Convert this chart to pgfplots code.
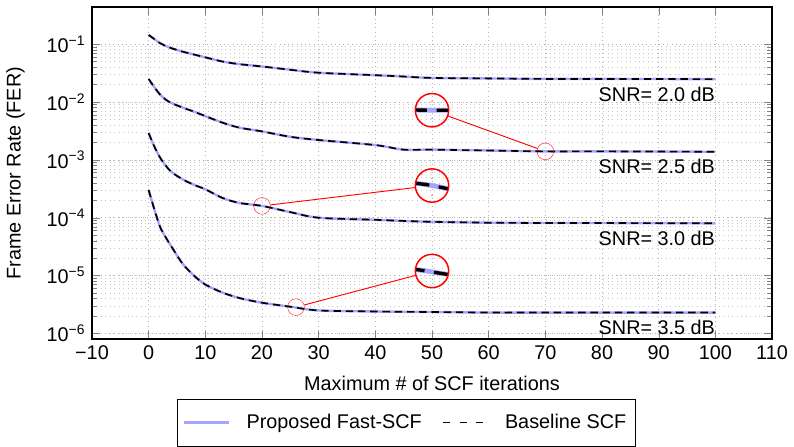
\documentclass[border=0pt]{standalone}
\usepackage{fontspec}
\setmainfont{Liberation Sans}
\usepackage{pgfplots}
\pgfplotsset{compat=1.18}
\usepackage{pgfplotstable}
\usetikzlibrary{spy}
\definecolor{propblue}{RGB}{165,165,255}

% FER vs. max iterations, columns: SNR 2.0 / 2.5 / 3.0 / 3.5 dB
\pgfplotstableread{
x    a       b        c        d
0    0.144   0.025    0.0029   3.0e-4
1    0.122   0.018    0.0017   1.4e-4
2    0.104   0.0135   0.0011   7.0e-5
3    0.093   0.011    8.0e-4   4.6e-5
4    0.085   0.0096   6.2e-4   3.2e-5
6    0.074   0.0080   4.6e-4   1.6e-5
8    0.066   0.0068   3.7e-4   1.0e-5
10   0.059   0.0057   3.1e-4   7.0e-6
13   0.050   0.0044   2.2e-4   5.1e-6
16   0.045   0.0036   1.8e-4   4.1e-6
20   0.041   0.0031   1.6e-4   3.4e-6
25   0.036   0.0025   1.25e-4  2.9e-6
30   0.032   0.0022   1.0e-4   2.5e-6
40   0.029   0.0018   9.2e-5   2.4e-6
45   0.0275  0.0015   8.8e-5   2.37e-6
50   0.026   0.0015   8.5e-5   2.35e-6
60   0.0255  0.00145  8.2e-5   2.3e-6
70   0.025   0.0014   8.1e-5   2.3e-6
80   0.025   0.0014   8.1e-5   2.3e-6
100  0.0248  0.00138  8.0e-5   2.3e-6
}\fer

\begin{document}
\begin{tikzpicture}[font=\fontsize{10.7pt}{12.8pt}\selectfont,
  spy using outlines={circle, red, magnification=2, size=18pt,
    spy connection path={\draw[red, line width=0.5pt] (tikzspyonnode) -- (tikzspyinnode);}},
  every spy in node/.append style={line width=1pt},
  every spy on node/.append style={line width=0.6pt}]
\begin{axis}[
  scale only axis,
  width=367pt, height=179pt,
  ymode=log,
  xmin=-10, xmax=110,
  ymin=8e-7, ymax=0.43,
  xtick={-10,0,10,20,30,40,50,60,70,80,90,100,110},
  xticklabels={−10,0,10,20,30,40,50,60,70,80,90,100,110},
  ytick={1e-6,1e-5,1e-4,1e-3,1e-2,1e-1},
  yticklabels={10\textsuperscript{−6},10\textsuperscript{−5},10\textsuperscript{−4},10\textsuperscript{−3},10\textsuperscript{−2},10\textsuperscript{−1}},
  grid=both,
  grid style={dotted, line width=0.3pt, draw=gray!45},
  major grid style={dotted, line width=0.3pt, draw=gray!60},
  axis line style={line width=1pt},
  xlabel={Maximum \# of SCF iterations},
  ylabel={Frame Error Rate (FER)},
  xlabel style={yshift=-2pt},
  ylabel style={yshift=5pt},
  legend columns=2,
  legend style={at={(0.4625,-0.18)}, anchor=north, draw=black, line width=0.5pt,
    inner xsep=3pt, inner ysep=6pt,
    /tikz/every odd column/.append style={column sep=7pt},
    /tikz/column 2/.append style={column sep=9pt}},
  legend image code/.code={\draw[#1] (0pt,0pt) -- (24pt,0pt);},
  every axis plot/.append style={smooth},
]
\addlegendimage{propblue, line width=1.3pt}
\addlegendentry{Proposed Fast-SCF}
\addlegendimage{black, line width=0.9pt, dash pattern=on 3.7pt off 5.3pt}
\addlegendentry{Baseline SCF}

\addplot[propblue, line width=1.3pt, forget plot] table[x=x, y=a] {\fer};
\addplot[black, line width=0.9pt, dash pattern=on 4pt off 2.6pt, forget plot] table[x=x, y=a] {\fer};
\addplot[propblue, line width=1.3pt, forget plot] table[x=x, y=b] {\fer};
\addplot[black, line width=0.9pt, dash pattern=on 4pt off 2.6pt, forget plot] table[x=x, y=b] {\fer};
\addplot[propblue, line width=1.3pt, forget plot] table[x=x, y=c] {\fer};
\addplot[black, line width=0.9pt, dash pattern=on 4pt off 2.6pt, forget plot] table[x=x, y=c] {\fer};
\addplot[propblue, line width=1.3pt, forget plot] table[x=x, y=d] {\fer};
\addplot[black, line width=0.9pt, dash pattern=on 4pt off 2.6pt, forget plot] table[x=x, y=d] {\fer};

\node[anchor=north east, inner sep=0pt, yshift=-4pt] at (axis cs:100,0.0248) {SNR= 2.0 dB};
\node[anchor=north east, inner sep=0pt, yshift=-4pt] at (axis cs:100,0.00138) {SNR= 2.5 dB};
\node[anchor=north east, inner sep=0pt, yshift=-4pt] at (axis cs:100,8.0e-5) {SNR= 3.0 dB};
\node[anchor=north east, inner sep=0pt, yshift=-4pt] at (axis cs:100,2.3e-6) {SNR= 3.5 dB};

\coordinate (s1) at (axis cs:70,0.0014);
\coordinate (m1) at (axis cs:50,7.2e-3);
\coordinate (s2) at (axis cs:20,1.6e-4);
\coordinate (m2) at (axis cs:50,3.6e-4);
\coordinate (s3) at (axis cs:26,2.85e-6);
\coordinate (m3) at (axis cs:50,1.2e-5);
\end{axis}
\spy on (s1) in node at (m1);
\spy on (s2) in node at (m2);
\spy on (s3) in node at (m3);
\path ([yshift=4pt]current axis.north);
\end{tikzpicture}
\end{document}
